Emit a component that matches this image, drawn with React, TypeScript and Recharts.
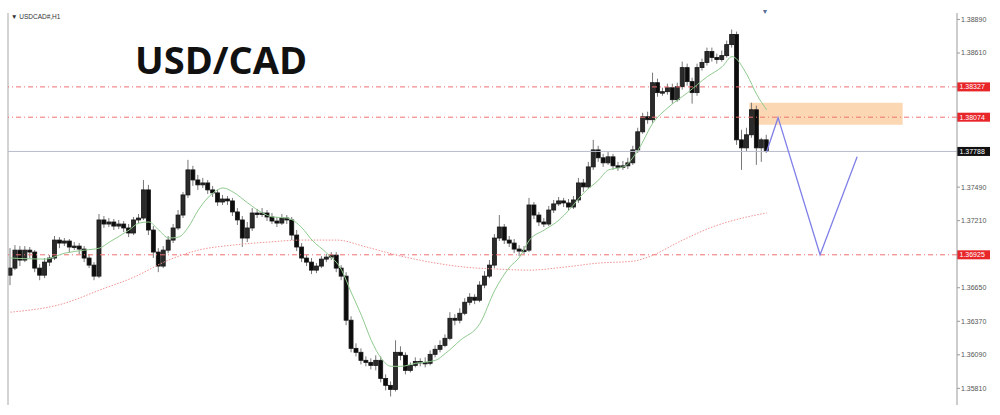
import React from 'react';
import {
    ComposedChart,
    Bar,
    Line,
    XAxis,
    YAxis,
    ReferenceLine,
    ReferenceArea,
} from 'recharts';

// USDCAD H1 candles: [open, high, low, close]
const candles = [
    [1.36755, 1.36981, 1.36672, 1.36814], [1.36814, 1.37006, 1.36797, 1.36964], [1.36964, 1.36998, 1.36831, 1.36881],
    [1.36881, 1.36998, 1.36864, 1.36964], [1.36964, 1.36990, 1.36898, 1.36948], [1.36948, 1.36964, 1.36780, 1.36814],
    [1.36814, 1.36847, 1.36713, 1.36755], [1.36755, 1.36898, 1.36730, 1.36864], [1.36864, 1.36923, 1.36831, 1.36898],
    [1.36898, 1.37082, 1.36881, 1.37048], [1.37048, 1.37073, 1.36981, 1.37023], [1.37023, 1.37065, 1.36998, 1.37040],
    [1.37040, 1.37057, 1.36948, 1.36990], [1.36990, 1.37031, 1.36964, 1.36998], [1.36998, 1.37023, 1.36931, 1.36973],
    [1.36973, 1.36998, 1.36864, 1.36898], [1.36898, 1.36931, 1.36814, 1.36839], [1.36839, 1.36864, 1.36713, 1.36747],
    [1.36747, 1.37266, 1.36730, 1.37216], [1.37216, 1.37249, 1.37149, 1.37182], [1.37182, 1.37232, 1.37157, 1.37199],
    [1.37199, 1.37224, 1.37132, 1.37165], [1.37165, 1.37216, 1.37140, 1.37182], [1.37182, 1.37207, 1.37115, 1.37149],
    [1.37149, 1.37182, 1.37073, 1.37107], [1.37107, 1.37241, 1.37090, 1.37216], [1.37216, 1.37266, 1.37190, 1.37232],
    [1.37232, 1.37550, 1.37216, 1.37467], [1.37467, 1.37509, 1.37090, 1.37132], [1.37132, 1.37165, 1.36898, 1.36948],
    [1.36948, 1.36981, 1.36780, 1.36831], [1.36831, 1.36998, 1.36814, 1.36964], [1.36964, 1.37082, 1.36939, 1.37048],
    [1.37048, 1.37182, 1.37023, 1.37149], [1.37149, 1.37299, 1.37132, 1.37257], [1.37257, 1.37450, 1.37232, 1.37425],
    [1.37425, 1.37718, 1.37400, 1.37634], [1.37634, 1.37668, 1.37500, 1.37550], [1.37550, 1.37592, 1.37467, 1.37509],
    [1.37509, 1.37567, 1.37483, 1.37525], [1.37525, 1.37550, 1.37433, 1.37467], [1.37467, 1.37500, 1.37408, 1.37442],
    [1.37442, 1.37467, 1.37333, 1.37366], [1.37366, 1.37425, 1.37341, 1.37391], [1.37391, 1.37416, 1.37341, 1.37375],
    [1.37375, 1.37400, 1.37249, 1.37283], [1.37283, 1.37316, 1.37174, 1.37216], [1.37216, 1.37249, 1.36990, 1.37065],
    [1.37065, 1.37199, 1.37031, 1.37149], [1.37149, 1.37316, 1.37124, 1.37274], [1.37274, 1.37308, 1.37232, 1.37266],
    [1.37266, 1.37316, 1.37241, 1.37274], [1.37274, 1.37299, 1.37207, 1.37241], [1.37241, 1.37274, 1.37182, 1.37207],
    [1.37207, 1.37241, 1.37157, 1.37190], [1.37190, 1.37266, 1.37174, 1.37232], [1.37232, 1.37257, 1.37182, 1.37216],
    [1.37216, 1.37241, 1.37048, 1.37090], [1.37090, 1.37132, 1.36956, 1.36990], [1.36990, 1.37023, 1.36864, 1.36898],
    [1.36898, 1.36923, 1.36831, 1.36864], [1.36864, 1.36898, 1.36764, 1.36797], [1.36797, 1.36856, 1.36772, 1.36831],
    [1.36831, 1.36914, 1.36814, 1.36889], [1.36889, 1.36931, 1.36864, 1.36906], [1.36906, 1.36948, 1.36881, 1.36923],
    [1.36923, 1.36948, 1.36780, 1.36814], [1.36814, 1.36839, 1.36713, 1.36747], [1.36747, 1.36780, 1.36337, 1.36379],
    [1.36379, 1.36412, 1.36111, 1.36144], [1.36144, 1.36186, 1.36077, 1.36111], [1.36111, 1.36144, 1.36010, 1.36044],
    [1.36044, 1.36077, 1.35994, 1.36027], [1.36027, 1.36061, 1.35968, 1.36002], [1.36002, 1.36086, 1.35960, 1.36044],
    [1.36044, 1.36077, 1.35860, 1.35893], [1.35893, 1.35927, 1.35793, 1.35835], [1.35835, 1.35868, 1.35742, 1.35801],
    [1.35801, 1.36211, 1.35784, 1.36111], [1.36111, 1.36161, 1.36044, 1.36086], [1.36086, 1.36111, 1.35927, 1.35960],
    [1.35960, 1.36027, 1.35943, 1.36002], [1.36002, 1.36069, 1.35985, 1.36035], [1.36035, 1.36061, 1.35994, 1.36027],
    [1.36027, 1.36069, 1.35985, 1.36019], [1.36019, 1.36127, 1.36002, 1.36094], [1.36094, 1.36169, 1.36069, 1.36136],
    [1.36136, 1.36211, 1.36111, 1.36169], [1.36169, 1.36261, 1.36153, 1.36228], [1.36228, 1.36446, 1.36211, 1.36395],
    [1.36395, 1.36429, 1.36337, 1.36379], [1.36379, 1.36479, 1.36353, 1.36437], [1.36437, 1.36563, 1.36420, 1.36529],
    [1.36529, 1.36605, 1.36504, 1.36571], [1.36571, 1.36596, 1.36513, 1.36546], [1.36546, 1.36705, 1.36529, 1.36672],
    [1.36672, 1.36789, 1.36646, 1.36747], [1.36747, 1.36881, 1.36730, 1.36839], [1.36839, 1.37098, 1.36814, 1.37065],
    [1.37065, 1.37257, 1.37040, 1.37157], [1.37157, 1.37182, 1.37015, 1.37048], [1.37048, 1.37082, 1.36990, 1.37023],
    [1.37023, 1.37057, 1.36939, 1.36973], [1.36973, 1.37006, 1.36914, 1.36956], [1.36956, 1.36998, 1.36931, 1.36964],
    [1.36964, 1.37400, 1.36948, 1.37341], [1.37341, 1.37366, 1.37224, 1.37257], [1.37257, 1.37283, 1.37165, 1.37199],
    [1.37199, 1.37232, 1.37157, 1.37182], [1.37182, 1.37333, 1.37165, 1.37299], [1.37299, 1.37383, 1.37274, 1.37350],
    [1.37350, 1.37408, 1.37333, 1.37375], [1.37375, 1.37400, 1.37324, 1.37358], [1.37358, 1.37391, 1.37291, 1.37324],
    [1.37324, 1.37416, 1.37308, 1.37383], [1.37383, 1.37567, 1.37358, 1.37525], [1.37525, 1.37559, 1.37450, 1.37492],
    [1.37492, 1.37701, 1.37475, 1.37659], [1.37659, 1.37885, 1.37634, 1.37801], [1.37801, 1.37835, 1.37701, 1.37735],
    [1.37735, 1.37768, 1.37659, 1.37693], [1.37693, 1.37785, 1.37676, 1.37743], [1.37743, 1.37768, 1.37634, 1.37668],
    [1.37668, 1.37701, 1.37626, 1.37659], [1.37659, 1.37709, 1.37634, 1.37668], [1.37668, 1.37735, 1.37642, 1.37693],
    [1.37693, 1.37835, 1.37676, 1.37801], [1.37801, 1.37986, 1.37776, 1.37952], [1.37952, 1.38111, 1.37935, 1.38078],
    [1.38078, 1.38120, 1.38019, 1.38053], [1.38053, 1.38446, 1.38027, 1.38362], [1.38362, 1.38396, 1.38245, 1.38279],
    [1.38279, 1.38320, 1.38253, 1.38287], [1.38287, 1.38354, 1.38262, 1.38320], [1.38320, 1.38354, 1.38187, 1.38220],
    [1.38220, 1.38362, 1.38203, 1.38329], [1.38329, 1.38538, 1.38304, 1.38488], [1.38488, 1.38521, 1.38337, 1.38371],
    [1.38371, 1.38404, 1.38187, 1.38279], [1.38279, 1.38521, 1.38253, 1.38488], [1.38488, 1.38563, 1.38463, 1.38530],
    [1.38530, 1.38655, 1.38505, 1.38622], [1.38622, 1.38655, 1.38538, 1.38572], [1.38572, 1.38605, 1.38521, 1.38555],
    [1.38555, 1.38630, 1.38538, 1.38588], [1.38588, 1.38714, 1.38572, 1.38680], [1.38680, 1.38806, 1.38655, 1.38764],
    [1.38764, 1.38789, 1.37843, 1.37885], [1.37885, 1.37969, 1.37634, 1.37818], [1.37818, 1.37986, 1.37785, 1.37927],
    [1.37927, 1.38195, 1.37902, 1.38136], [1.38136, 1.38170, 1.37676, 1.37818], [1.37818, 1.37902, 1.37701, 1.37885],
    [1.37885, 1.37927, 1.37776, 1.37788],
];

// fast moving average (green), read at [bar index, price]
const fastMa = [
    [0, 1.36898], [7, 1.36889], [11, 1.36939], [15, 1.36964], [18, 1.36981], [20, 1.37031], [24, 1.37132],
    [26, 1.37190], [28, 1.37199], [30, 1.37132], [32, 1.37065], [34, 1.37073], [36, 1.37157], [38, 1.37299],
    [41, 1.37442], [43, 1.37483], [45, 1.37450], [48, 1.37358], [51, 1.37274], [53, 1.37241], [56, 1.37232],
    [59, 1.37149], [61, 1.37048], [64, 1.36939], [67, 1.36797], [69, 1.36605], [71, 1.36420], [73, 1.36211],
    [75, 1.36061], [77, 1.35994], [79, 1.35994], [82, 1.36019], [86, 1.36044], [88, 1.36102], [91, 1.36211],
    [95, 1.36353], [98, 1.36630], [101, 1.36822], [103, 1.36906], [105, 1.37048], [108, 1.37132], [111, 1.37216],
    [113, 1.37299], [116, 1.37442], [119, 1.37550], [121, 1.37634], [124, 1.37659], [127, 1.37801], [130, 1.38027],
    [133, 1.38153], [137, 1.38279], [141, 1.38413], [144, 1.38496], [146, 1.38580], [149, 1.38429], [151, 1.38262],
    [153, 1.38136],
];

// slow moving average (red dotted)
const slowMa = [
    [0, 1.36446], [11, 1.36521], [18, 1.36630], [25, 1.36739], [32, 1.36881], [38, 1.36964], [45, 1.37006],
    [52, 1.37031], [59, 1.37048], [66, 1.37048], [72, 1.36990], [79, 1.36914], [86, 1.36856], [92, 1.36822],
    [99, 1.36805], [105, 1.36797], [112, 1.36822], [119, 1.36856], [126, 1.36872], [129, 1.36906], [136, 1.37048],
    [142, 1.37157], [149, 1.37241], [153, 1.37274],
];

// projected path (blue)
const projection = [[153, 1.37788], [155.3, 1.38070], [163.8, 1.36925], [171.3, 1.37743]];

const priceTicks = [1.3889, 1.3861, 1.3749, 1.3721, 1.3665, 1.3637, 1.3609, 1.3581];
const upperLevel = 1.38327;
const middleLevel = 1.38074;
const lowerLevel = 1.36925;
const lastPrice = 1.37788;
const zoneBars = [149.5, 180.5];
const zonePrices = [1.38011, 1.38195];

const rows = candles.map(([o, h, l, c], i) => ({ i, o, h, l, c, range: [l, h] }));
const fastRows = fastMa.map(([i, v]) => ({ i, v }));
const slowRows = slowMa.map(([i, v]) => ({ i, v }));
const projRows = projection.map(([i, v]) => ({ i, v }));

const Candle = (props: any) => {
    const { x, y, width, height, payload } = props;
    if (!payload || x == null) return null;
    const { o, h, l, c } = payload;
    const top = Math.min(y, y + height);
    const span = Math.abs(height);
    const k = span / (h - l);
    const yOf = (p: number) => top + (h - p) * k;
    const cx = x + width / 2;
    const bTop = yOf(Math.max(o, c));
    const bBot = yOf(Math.min(o, c));
    return (
        <g>
            <line x1={cx} x2={cx} y1={top} y2={top + span} stroke="#777" strokeWidth={1} />
            <rect
                x={x}
                y={bTop}
                width={width}
                height={Math.max(1.5, bBot - bTop)}
                fill={c >= o ? '#2a2a2a' : '#0d0d0d'}
                stroke="#151515"
                strokeWidth={0.8}
            />
        </g>
    );
};

const priceTag = (text: string, bg: string) => (props: any) => {
    const vb = props.viewBox || {};
    const left = vb.x + vb.width;
    return (
        <g>
            <rect x={left} y={vb.y - 4.5} width={33} height={9} fill={bg} />
            <text x={left + 2.5} y={vb.y + 2.5} fontSize={7} fill="#fff" fontFamily="Liberation Sans">
                {text}
            </text>
        </g>
    );
};

export default function App() {
    return (
        <div style={{ position: 'absolute', left: 0, top: 0, width: 1000, height: 415, background: '#fff' }}>
            <ComposedChart
                width={1000}
                height={415}
                data={rows}
                margin={{ top: 13, right: 0, bottom: 10, left: 8 }}
            >
                <XAxis type="number" dataKey="i" domain={[-0.5, 191.5]} allowDataOverflow hide />
                <YAxis
                    orientation="right"
                    domain={[1.35671, 1.38944]}
                    allowDataOverflow
                    ticks={priceTicks}
                    interval={0}
                    width={43}
                    tickSize={3}
                    tickMargin={1}
                    tickFormatter={(v: number) => v.toFixed(5)}
                    tick={{ fontSize: 7, fill: '#555', fontFamily: 'Liberation Sans' }}
                    axisLine={{ stroke: '#9a9a9a' }}
                    tickLine={{ stroke: '#9a9a9a' }}
                />
                <ReferenceLine x={-0.5} stroke="#a8a8a8" />
                <ReferenceArea
                    x1={zoneBars[0]}
                    x2={zoneBars[1]}
                    y1={zonePrices[0]}
                    y2={zonePrices[1]}
                    fill="#fbc99a"
                    fillOpacity={0.75}
                    stroke="none"
                />
                <ReferenceLine y={upperLevel} stroke="#f07070" strokeDasharray="5 3 1 3" label={priceTag('1.38327', '#e8262a')} />
                <ReferenceLine y={middleLevel} stroke="#f07070" strokeDasharray="5 3 1 3" label={priceTag('1.38074', '#e8262a')} />
                <ReferenceLine y={lowerLevel} stroke="#f07070" strokeDasharray="5 3 1 3" label={priceTag('1.36925', '#e8262a')} />
                <ReferenceLine y={lastPrice} stroke="#b9bccb" label={priceTag('1.37788', '#111')} />
                <Line
                    data={slowRows}
                    dataKey="v"
                    type="monotone"
                    stroke="#f29393"
                    strokeWidth={1}
                    strokeDasharray="1.5 1.5"
                    dot={false}
                    isAnimationActive={false}
                />
                <Line
                    data={fastRows}
                    dataKey="v"
                    type="monotone"
                    stroke="#8fca8f"
                    strokeWidth={1}
                    dot={false}
                    isAnimationActive={false}
                />
                <Bar dataKey="range" barSize={4} shape={Candle} isAnimationActive={false} />
                <Line
                    data={projRows}
                    dataKey="v"
                    type="linear"
                    stroke="#8080e8"
                    strokeWidth={1.3}
                    dot={false}
                    isAnimationActive={false}
                />
            </ComposedChart>
            <svg
                width={1000}
                height={415}
                style={{ position: 'absolute', left: 0, top: 0, pointerEvents: 'none' }}
            >
                <text x={11} y={19} fontSize={6.5} fill="#333" fontFamily="Liberation Sans">
                    ▼ USDCAD#,H1
                </text>
                <text x={765} y={14} fontSize={7} fill="#5b6f9c" textAnchor="middle">
                    ▼
                </text>
                <text x={135} y={74} fontSize={38} fontWeight={700} fill="#111" fontFamily="Open Sans">
                    USD/CAD
                </text>
            </svg>
        </div>
    );
}
